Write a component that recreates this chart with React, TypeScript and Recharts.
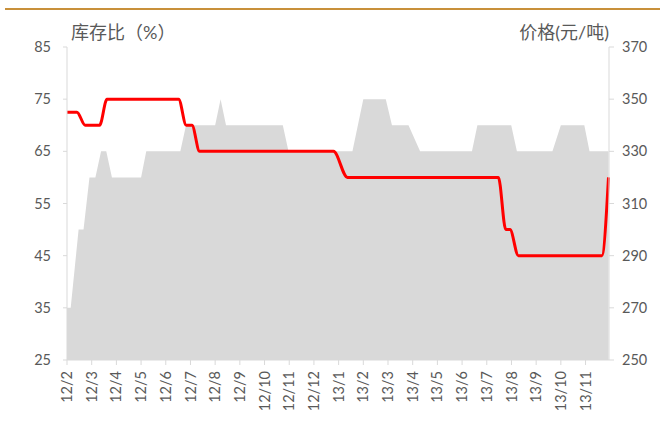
import { ComposedChart, Area, Line, XAxis, YAxis } from "recharts";

// x positions are months counted from 12/2 (0 = 12/2, 21 = 13/11)
const monthLabels = [
  "12/2", "12/3", "12/4", "12/5", "12/6", "12/7", "12/8", "12/9", "12/10", "12/11", "12/12",
  "13/1", "13/2", "13/3", "13/4", "13/5", "13/6", "13/7", "13/8", "13/9", "13/10", "13/11",
];

// 库存比 (%) - left axis
const ratioX = [0, 0.15, 0.47, 0.67, 0.91, 1.15, 1.38, 1.59, 1.82, 3.0, 3.21, 4.59, 4.82, 6.0, 6.22, 6.44, 8.74, 8.97, 11.56, 12.0, 12.91, 13.16, 13.83, 14.3, 16.4, 16.62, 17.99, 18.22, 19.66, 20.0, 20.95, 21.16, 21.93];
const ratioY = [35, 35, 50, 50, 60, 60, 65, 65, 60, 60, 65, 65, 70, 70, 75, 70, 70, 65, 65, 75, 75, 70, 70, 65, 65, 70, 70, 65, 65, 70, 70, 65, 65];

// 价格 (元/吨) - right axis
const priceX = [0, 0.4, 0.74, 1.32, 1.62, 4.52, 4.83, 5.06, 5.37, 10.79, 11.36, 17.47, 17.77, 17.94, 18.28, 21.66, 21.93];
const priceY = [345, 345, 340, 340, 350, 350, 340, 340, 330, 330, 320, 320, 300, 300, 290, 290, 320];

const ratioData = ratioX.map((m, i) => ({ m, ratio: ratioY[i] }));
const priceData = priceX.map((m, i) => ({ m, price: priceY[i] }));

const labelColor = "#595959";
const axisColor = "#d9d9d9";
const font = "Lato, 'Noto Sans CJK SC', sans-serif";

function MonthTick(props: any) {
  const { x, y, payload } = props;
  return (
    <text
      x={0}
      y={0}
      dy="0.35em"
      transform={`translate(${x},${y + 4}) rotate(-90)`}
      textAnchor="end"
      fill={labelColor}
      fontSize={14.5}
      fontFamily={font}
    >
      {monthLabels[payload.value]}
    </text>
  );
}

export default function App() {
  return (
    <div style={{ position: "absolute", left: 0, top: 0, width: 660, height: 426, background: "#fff", fontFamily: font }}>
      <div style={{ position: "absolute", left: 5, right: 0, top: 8, height: 2, background: "#c8903a" }} />
      <span style={{ position: "absolute", left: 71, top: 20, fontSize: 18, color: labelColor, lineHeight: "24px" }}>库存比（%）</span>
      <span style={{ position: "absolute", right: 51, top: 20, fontSize: 18, color: labelColor, lineHeight: "24px" }}>价格(元/吨)</span>
      <ComposedChart width={660} height={426} margin={{ top: 47, right: 0, bottom: 0, left: 0 }}>
        <XAxis
          dataKey="m"
          type="number"
          domain={[0, 21.95]}
          ticks={monthLabels.map((_, i) => i)}
          allowDuplicatedCategory={false}
          height={66}
          stroke={axisColor}
          tickSize={5}
          tick={<MonthTick />}
          interval={0}
        />
        <YAxis
          yAxisId="left"
          domain={[25, 85]}
          ticks={[25, 35, 45, 55, 65, 75, 85]}
          width={67}
          stroke={axisColor}
          tickSize={4}
          tickMargin={12}
          tick={{ fill: labelColor, fontSize: 14.5, fontFamily: font }}
        />
        <YAxis
          yAxisId="right"
          orientation="right"
          domain={[250, 370]}
          ticks={[250, 270, 290, 310, 330, 350, 370]}
          width={51}
          stroke={axisColor}
          tickSize={5}
          tickMargin={8}
          tick={{ fill: labelColor, fontSize: 14.5, fontFamily: font }}
        />
        <Area
          yAxisId="left"
          data={ratioData}
          dataKey="ratio"
          type="linear"
          fill="#d9d9d9"
          fillOpacity={1}
          stroke="none"
          baseValue={25}
          isAnimationActive={false}
        />
        <Line
          yAxisId="right"
          data={priceData}
          dataKey="price"
          type="monotone"
          stroke="#ff0000"
          strokeWidth={3}
          dot={false}
          isAnimationActive={false}
        />
      </ComposedChart>
    </div>
  );
}
